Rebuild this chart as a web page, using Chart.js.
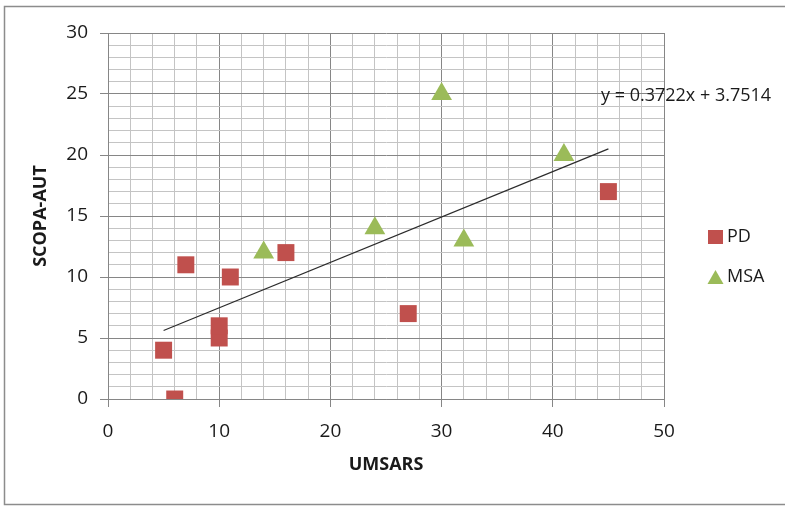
<!DOCTYPE html>
<html>
<head>
<meta charset="utf-8">
<script src="https://cdn.jsdelivr.net/npm/chart.js@4.4.1/dist/chart.umd.min.js"></script>
<style>
  html, body { margin: 0; padding: 0; background: #fff; }
  canvas { display: block; }
</style>
</head>
<body>
<canvas id="chart" width="785" height="506"></canvas>
<script>
// data
var pdX  = [5, 6, 7, 10, 10, 11, 16, 27, 45];
var pdY  = [4, 0, 11, 5, 6, 10, 12, 7, 17];
var msaX = [14, 24, 30, 32, 41];
var msaY = [12, 14, 25, 13, 20];

// trend line as printed on the chart
var trendSlope = 0.3722;
var trendIntercept = 3.7514;
var trendFromTo = [5, 45];
var trendLabel = 'y = 0.3722x + 3.7514';

var xLabels = [0, 10, 20, 30, 40, 50];
var yLabels = [0, 5, 10, 15, 20, 25, 30];

var pdColor = '#C0504D';
var msaColor = '#9BBB59';

function toPoints(xs, ys) {
  return xs.map(function (x, i) { return { x: x, y: ys[i] }; });
}

Chart.defaults.font.family = "'Open Sans', sans-serif";
Chart.defaults.font.size = 18;
Chart.defaults.color = '#1a1a1a';

var majorGrid = '#868686';
var minorGrid = '#c4c4c4';

// frame + legend + equation, drawn around the plot
var extras = {
  id: 'extras',
  beforeDraw: function (chart) {
    var ctx = chart.ctx;
    ctx.save();
    ctx.fillStyle = '#fff';
    ctx.fillRect(0, 0, chart.width, chart.height);
    ctx.restore();
  },
  afterDraw: function (chart) {
    var ctx = chart.ctx;
    ctx.save();
    ctx.strokeStyle = '#8c8c8c';
    ctx.lineWidth = 1.5;
    ctx.strokeRect(4.5, 6.5, 800, 498);

    ctx.font = "18px 'Open Sans', sans-serif";
    ctx.fillStyle = '#1a1a1a';
    ctx.textBaseline = 'middle';
    ctx.fillText(trendLabel, 601, 96);

    // legend
    ctx.fillStyle = pdColor;
    ctx.fillRect(708, 230, 15, 14);
    ctx.fillStyle = msaColor;
    ctx.beginPath();
    ctx.moveTo(715.5, 270);
    ctx.lineTo(723.5, 284);
    ctx.lineTo(707.5, 284);
    ctx.closePath();
    ctx.fill();
    ctx.fillStyle = '#1a1a1a';
    ctx.fillText('PD', 727, 237);
    ctx.fillText('MSA', 727, 277);
    ctx.restore();
  }
};

new Chart(document.getElementById('chart'), {
  type: 'scatter',
  data: {
    datasets: [
      {
        label: 'PD',
        data: toPoints(pdX, pdY),
        pointStyle: 'rect',
        pointRadius: 12,
        backgroundColor: pdColor,
        borderColor: pdColor,
        borderWidth: 0
      },
      {
        label: 'MSA',
        data: toPoints(msaX, msaY),
        pointStyle: 'triangle',
        pointRadius: 12,
        backgroundColor: msaColor,
        borderColor: msaColor,
        borderWidth: 0
      },
      {
        label: 'trend',
        data: trendFromTo.map(function (x) { return { x: x, y: trendSlope * x + trendIntercept }; }),
        showLine: true,
        pointRadius: 0,
        borderColor: '#2b2b2b',
        borderWidth: 1.2
      }
    ]
  },
  options: {
    responsive: false,
    animation: false,
    events: [],
    layout: { padding: { left: 0, top: 33, right: 121, bottom: 0 } },
    plugins: {
      legend: { display: false },
      tooltip: { enabled: false }
    },
    scales: {
      x: {
        type: 'linear',
        min: 0,
        max: 50,
        afterFit: function (s) { s.height = 107; },
        ticks: {
          stepSize: 2,
          autoSkip: false,
          maxRotation: 0,
          padding: 13,
          font: { size: 19 },
          callback: function (v) { return xLabels.indexOf(v) >= 0 ? v : ''; }
        },
        grid: {
          tickLength: 8,
          color: function (c) { return c.tick && c.tick.value % 10 === 0 ? majorGrid : minorGrid; },
          tickColor: function (c) { return c.tick && c.tick.value % 10 === 0 ? majorGrid : 'rgba(0,0,0,0)'; }
        },
        border: { color: majorGrid },
        title: {
          display: true,
          text: 'UMSARS',
          font: { size: 18, weight: 'bold' },
          padding: { top: 0, bottom: 30 }
        }
      },
      y: {
        type: 'linear',
        min: 0,
        max: 30,
        afterFit: function (s) { s.width = 108; },
        ticks: {
          stepSize: 1,
          autoSkip: false,
          padding: 12,
          font: { size: 19 },
          callback: function (v) { return yLabels.indexOf(v) >= 0 ? v : ''; }
        },
        grid: {
          tickLength: 8,
          color: function (c) { return c.tick && c.tick.value % 5 === 0 ? majorGrid : minorGrid; },
          tickColor: function (c) { return c.tick && c.tick.value % 5 === 0 ? majorGrid : 'rgba(0,0,0,0)'; }
        },
        border: { color: majorGrid },
        title: {
          display: true,
          text: 'SCOPA-AUT',
          font: { size: 18, weight: 'bold' },
          padding: { top: 30, bottom: 0 }
        }
      }
    }
  },
  plugins: [extras]
});
</script>
</body>
</html>
